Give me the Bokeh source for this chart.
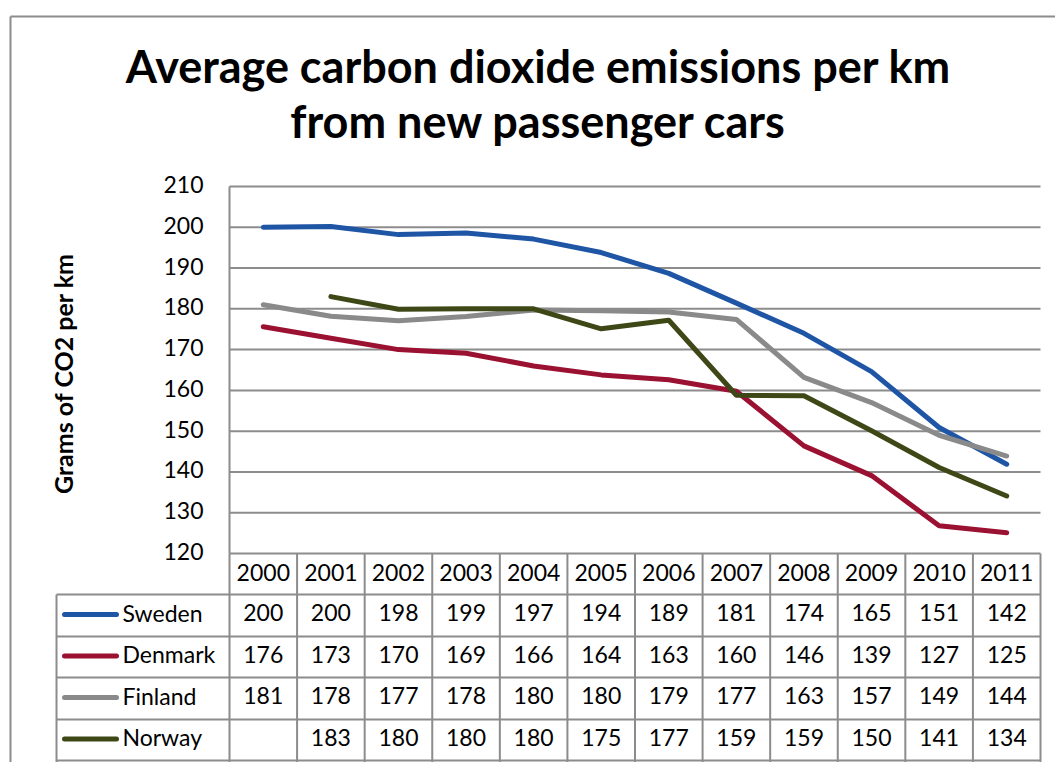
import math
from bokeh.plotting import figure
from bokeh.models import Range1d, ColumnDataSource
from bokeh.embed import file_html
from bokeh.resources import INLINE
from bokeh.core.properties import value

# ---------------- data ----------------
years = [2000, 2001, 2002, 2003, 2004, 2005, 2006, 2007, 2008, 2009, 2010, 2011]
series_names = ["Sweden", "Denmark", "Finland", "Norway"]
sweden = [200.0, 200.2, 198.2, 198.6, 197.1, 193.8, 188.7, 181.4, 174.0, 164.6, 150.9, 141.9]
denmark = [175.6, 172.8, 170.0, 169.1, 166.0, 163.8, 162.6, 159.8, 146.4, 139.1, 126.8, 125.1]
finland = [181.0, 178.2, 177.1, 178.1, 179.7, 179.5, 179.2, 177.4, 163.2, 157.0, 149.0, 143.9]
norway = [None, 183.0, 179.9, 180.0, 180.0, 175.1, 177.2, 158.8, 158.7, 150.1, 141.1, 134.1]
y_ticks = [120, 130, 140, 150, 160, 170, 180, 190, 200, 210]
title_lines = ["Average carbon dioxide emissions per km", "from new passenger cars"]
y_label = "Grams of CO2 per km"

# ---------------- styles ----------------
colors = ["#1F55A5", "#9B1131", "#8A8A8A", "#3E4716"]
GRID = "#8C8C8C"
FONT = "Lato"
FS = "23px"
DY = 2   # visual centring correction for middle baseline (px)

# ---------------- layout geometry (page pixels) ----------------
W, H = 1055, 762
FL, FR, FT, FB = 229, 1040, 186, 553      # plot area
XU = (FR - FL) / 12.0                      # px per year
YU = (FB - FT) / 90.0                      # px per g/km


def X(px):
    return 1999.5 + (px - FL) / XU


def Y(py):
    return 120 - (py - FB) / YU


p = figure(width=W, height=H, output_backend="svg", toolbar_location=None,
           x_range=Range1d(X(0), X(W)), y_range=Range1d(Y(H), Y(0)),
           x_axis_type=None, y_axis_type=None, min_border=0, title=None)
p.outline_line_color = None
p.grid.visible = False
p.background_fill_color = "white"
p.border_fill_color = "white"


def segs(x0, y0, x1, y1, color=GRID, width=2, cap="butt"):
    src = ColumnDataSource(data=dict(x0=x0, y0=y0, x1=x1, y1=y1))
    p.segment(x0="x0", y0="y0", x1="x1", y1="y1", source=src,
              line_color=color, line_width=width, line_cap=cap)


def texts(x, y, t, align="center", size=FS, style="normal", angle=0.0,
          baseline="middle"):
    src = ColumnDataSource(data=dict(x=x, y=y, t=t))
    p.text(x="x", y="y", text="t", source=src, text_align=align,
           text_baseline=baseline, text_font=value(FONT),
           text_font_size=value(size), text_font_style=style,
           text_color="black", angle=angle)


# outer chart border
segs([X(10), X(10)], [Y(16), Y(16)], [X(10), X(W + 10)], [Y(H + 10), Y(16)])

# horizontal grid lines (130..210)
gy = y_ticks[1:]
segs([1999.5] * len(gy), gy, [2011.5] * len(gy), gy)
# y axis line
segs([1999.5], [y_ticks[0]], [1999.5], [y_ticks[-1]])
# y tick labels
texts([X(203)] * len(y_ticks), [t + DY / YU for t in y_ticks],
      [str(t) for t in y_ticks], align="right")
# y axis title
texts([X(62)], [Y(373)], [y_label], size="25px", style="bold", angle=math.pi / 2)

# series lines
all_series = [sweden, denmark, finland, norway]
for vals, col in zip(all_series, colors):
    ys = [float("nan") if v is None else v for v in vals]
    p.line(years, ys, line_color=col, line_width=5, line_join="round", line_cap="round")

# data table -----------------------------------------------------
row_edges = [594, 636, 677, 719, 760]
segs([1999.5], [120], [2011.5], [120])
hy = [Y(r) for r in row_edges]
segs([X(56)] * len(hy), hy, [2011.5] * len(hy), hy)
bounds = [y - 0.5 for y in years] + [years[-1] + 0.5]
segs(bounds, [120] * len(bounds), bounds, [Y(H + 10)] * len(bounds))
segs([X(56)], [Y(594)], [X(56)], [Y(H + 10)])

# header years
texts(years, [Y(574 - DY)] * len(years), [str(y) for y in years])

row_centers = [614, 655.5, 697, 738.5]
tx, ty, tt = [], [], []
for vals, rc in zip(all_series, row_centers):
    for yr, v in zip(years, vals):
        if v is None:
            continue
        tx.append(yr)
        ty.append(Y(rc - DY))
        tt.append(str(int(round(v))))
texts(tx, ty, tt)

# legend keys + names
for name, col, rc in zip(series_names, colors, row_centers):
    segs([X(64)], [Y(rc)], [X(116)], [Y(rc)], color=col, width=5, cap="round")
texts([X(122)] * 4, [Y(rc - DY) for rc in row_centers], series_names, align="left")

# title
texts([X(538)] * 2, [Y(65), Y(120)], title_lines, size="45px", style="bold")

open("out.html", "w").write(file_html(p, INLINE))
